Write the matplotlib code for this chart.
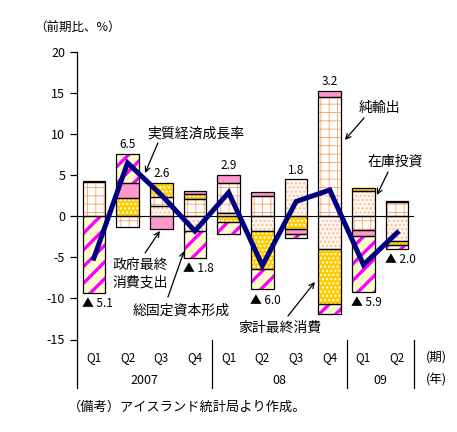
import numpy as np
import matplotlib
matplotlib.use('Agg')
import matplotlib.pyplot as plt
from matplotlib.transforms import blended_transform_factory

plt.rcParams['font.family'] = ['Noto Sans CJK JP', 'DejaVu Sans']
plt.rcParams['hatch.linewidth'] = 1.0
plt.rcParams['axes.unicode_minus'] = False

# data (contribution to q/q growth, %)
quarters = ['Q1', 'Q2', 'Q3', 'Q4', 'Q1', 'Q2', 'Q3', 'Q4', 'Q1', 'Q2']
years = ['2007', '08', '09']
year_centers = [1.5, 5.5, 8.5]
year_bounds = [-0.5, 3.5, 7.5, 9.5]

inventory = [0.0, 0.0, 1.2, -1.8, 0.4, -1.8, 4.5, -4.0, 3.1, -3.0]
net_exports = [4.2, -1.3, 1.1, 2.1, 3.6, 2.5, 0.0, 14.5, -1.7, 1.7]
household = [0.1, 2.2, 1.8, 0.6, -0.7, -4.6, -1.6, -6.7, 0.3, -0.5]
government = [0.0, 1.8, -1.5, 0.4, 1.0, 0.4, -0.5, 0.8, -0.7, 0.1]
gfcf = [-9.3, 3.6, 0.0, -3.3, -1.4, -2.5, -0.6, -1.2, -6.8, -0.5]
growth = [-5.1, 6.5, 2.6, -1.8, 2.9, -6.0, 1.8, 3.2, -5.9, -2.0]

# stacking order from zero outward: (values, face, hatch, hatch colour, hatch lw)
series = [
    (inventory, '#FFF7F0', '....', '#F9BC93', 1.0),
    (net_exports, '#FFFFFF', '++', '#FFA060', 0.6),
    (household, '#FFCC00', '....', '#FFFFFF', 1.0),
    (government, '#FF99CC', None, '#FF99CC', 1.0),
    (gfcf, '#FFFFCC', '//', '#FF00FF', 2.4),
]

fig = plt.figure(figsize=(4.57, 4.32), dpi=100)
ax = fig.add_axes([77 / 457, (432 - 339.5) / 432, 337 / 457, 287.5 / 432])

x = np.arange(len(quarters))
w = 0.67
pos_base = np.zeros(len(x))
neg_base = np.zeros(len(x))

for vals, face, hatch, hcol, hlw in series:
    v = np.array(vals)
    base = np.where(v >= 0, pos_base, neg_base)
    keep = v != 0
    bars = ax.bar(x[keep], v[keep], w, bottom=base[keep], color=face,
                  edgecolor=hcol, hatch=hatch, linewidth=0, zorder=2)
    for p in bars:
        if hasattr(p, 'set_hatch_linewidth'):
            p.set_hatch_linewidth(hlw)
    ax.bar(x[keep], v[keep], w, bottom=base[keep], fill=False,
           edgecolor='black', linewidth=0.9, zorder=3)
    pos_base = pos_base + np.where(v > 0, v, 0)
    neg_base = neg_base + np.where(v < 0, v, 0)

ax.axhline(0, color='black', lw=0.8, zorder=1)

# growth line
ax.plot(x, growth, color='#000080', lw=3.6, zorder=5, solid_joinstyle='miter')

# value labels
for i, g in enumerate(growth):
    if g >= 0:
        ax.annotate(f'{g:.1f}', (x[i], pos_base[i]), xytext=(0, 2),
                    textcoords='offset points', ha='center', va='bottom', fontsize=8.5)
    else:
        ax.annotate(f'▲ {abs(g):.1f}', (x[i] + 0.1, neg_base[i]), xytext=(0, -3),
                    textcoords='offset points', ha='center', va='top', fontsize=8.5)

# annotations
arrow = dict(arrowstyle='->', color='black', lw=0.9, shrinkA=0, shrinkB=0, mutation_scale=9)
ax.annotate('', xy=(1.52, 5.27), xytext=(1.90, 8.92), arrowprops=arrow, zorder=6)
ax.text(3.03, 10.14, '実質経済成長率', ha='center', va='center', fontsize=10)
ax.annotate('', xy=(7.45, 9.29), xytext=(8.02, 11.99), arrowprops=arrow, zorder=6)
ax.text(8.49, 13.17, '純輸出', ha='center', va='center', fontsize=10)
ax.annotate('', xy=(8.40, 2.59), xytext=(8.73, 5.39), arrowprops=arrow, zorder=6)
ax.text(8.94, 6.61, '在庫投資', ha='center', va='center', fontsize=10)
ax.annotate('', xy=(1.96, -1.79), xytext=(1.52, -4.47), arrowprops=arrow, zorder=6)
ax.text(1.37, -7.0, '政府最終\n消費支出', ha='center', va='center', fontsize=10, linespacing=1.25)
ax.annotate('', xy=(2.68, -4.22), xytext=(2.20, -9.82), arrowprops=arrow, zorder=6)
ax.text(2.59, -11.53, '総固定資本形成', ha='center', va='center', fontsize=10)
ax.annotate('', xy=(6.56, -8.0), xytext=(5.76, -12.14), arrowprops=arrow, zorder=6)
ax.text(5.52, -13.6, '家計最終消費', ha='center', va='center', fontsize=10)

# axes styling
ax.set_xlim(-0.5, 9.5)
ax.set_ylim(-15, 20)
ax.set_yticks(np.arange(-15, 21, 5))
ax.tick_params(axis='y', direction='out', length=5, labelsize=9, width=0.9)
ax.set_xticks([])
for s in ['top', 'right', 'bottom']:
    ax.spines[s].set_visible(False)
ax.spines['left'].set_linewidth(0.9)

# category axis below the plot
trans = blended_transform_factory(ax.transData, ax.transAxes)
for i, q in enumerate(quarters):
    ax.text(x[i], -0.061, q, transform=trans, ha='center', va='center', fontsize=8.5)
for yc, yl in zip(year_centers, years):
    ax.text(yc, -0.141, yl, transform=trans, ha='center', va='center', fontsize=9)
for xb in year_bounds:
    ax.plot([xb, xb], [0, -0.169], transform=trans, color='black', lw=0.9, clip_on=False)
ax.text(10.15, -0.061, '(期)', transform=trans, ha='center', va='center', fontsize=9)
ax.text(10.15, -0.141, '(年)', transform=trans, ha='center', va='center', fontsize=9)

fig.text(78 / 457, 1 - 28 / 432, '（前期比、%）', ha='center', va='center', fontsize=9)
fig.text(68 / 457, 1 - 407 / 432, '（備考）アイスランド統計局より作成。', ha='left', va='center', fontsize=9.5)

fig.savefig('out.png', dpi=100)
